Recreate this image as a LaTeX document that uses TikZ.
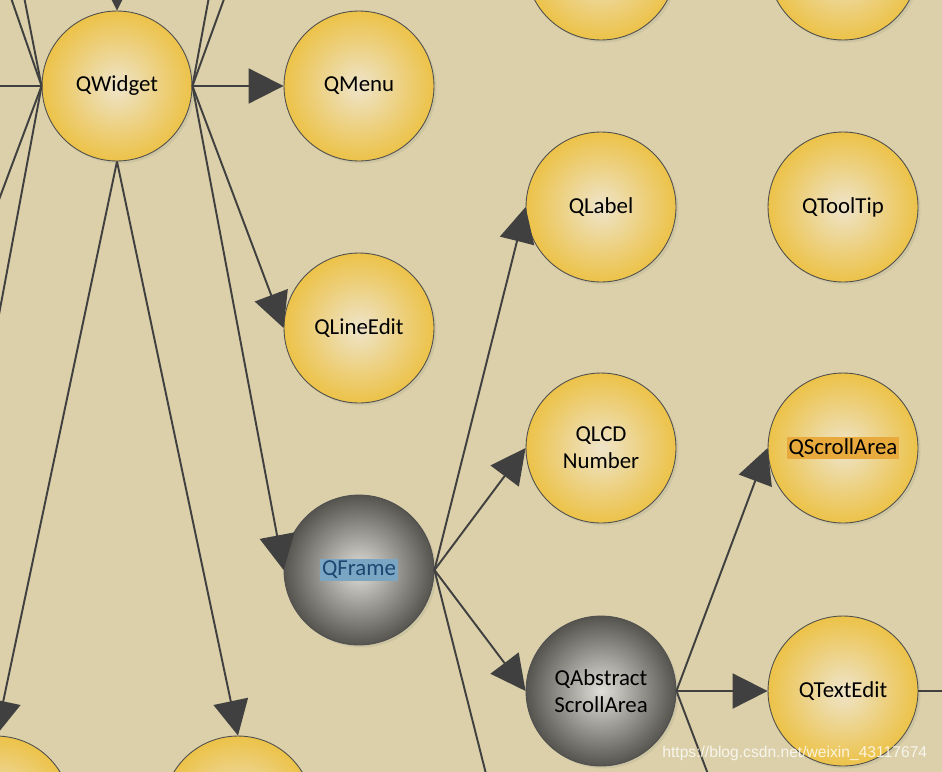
\documentclass[tikz,border=0pt]{standalone}
\usepackage{fontspec}
\setmainfont{Carlito}
\newfontfamily\wmfont{Liberation Sans}
\usetikzlibrary{arrows.meta,shadows}
\definecolor{bg}{RGB}{219,208,169}
\definecolor{goldout}{RGB}{236,194,72}
\definecolor{goldin}{RGB}{238,228,202}
\definecolor{greyout}{RGB}{86,84,78}
\definecolor{greyin}{RGB}{224,222,216}
\definecolor{rim}{RGB}{80,80,80}
\definecolor{ink}{RGB}{64,64,64}
\definecolor{hlblue}{RGB}{122,166,196}
\definecolor{txtblue}{RGB}{30,70,112}
\definecolor{hlorange}{RGB}{232,170,60}
\setlength{\fboxsep}{1pt}

\tikzset{
  ball/.style={circle,minimum size=3cm,inner sep=0pt,align=center,draw=rim,line width=0.5pt,
    shading=radial,inner color=goldin,outer color=goldout,
    drop shadow={shadow xshift=0.05cm,shadow yshift=-0.05cm,opacity=0.15},
    font=\fontsize{13}{15.5}\selectfont},
  greyball/.style={ball,inner color=greyin,outer color=greyout},
  link/.style={draw=ink,line width=1.1pt},
  isa/.style={link,-{Triangle[length=0.7cm,width=0.7cm]}}
}

\begin{document}
\begin{tikzpicture}[x=0.02cm,y=-0.02cm]
\useasboundingbox(0,0)rectangle(942,771);
\clip(0,0)rectangle(942,771);
\fill[bg](-10,-10)rectangle(952,781);
% nodes
\node[ball](topa)at(601,-35){};\node[ball](topb)at(843,-35){};
\node[ball](widget)at(117,86){QWidget};
\node[ball](menu)at(359,86){QMenu};
\node[ball](label)at(601,207){QLabel};
\node[ball](tooltip)at(843,207){QToolTip};
\node[ball](lineedit)at(359,328){QLineEdit};
\node[ball](lcd)at(601,448){QLCD\\Number};
\node[ball](scroll)at(843,448){\colorbox{hlorange}{QScrollArea}};
\node[greyball](frame)at(359,570){\colorbox{hlblue}{\textcolor{txtblue}{QFrame}}};
\node[greyball](abstract)at(601,691){QAbstract\\ScrollArea};
\node[ball](textedit)at(843,691){QTextEdit};
\node[ball](belowa)at(-4,811){};\node[ball](belowb)at(238,811){};
% free ends outside the frame
\coordinate(parent)at(117,-120);
\coordinate(wa)at(-60,86);\coordinate(wb)at(-23,-100);\coordinate(wc)at(5,-100);
\coordinate(wd)at(-60,357);\coordinate(we)at(-60,631);
\coordinate(ea)at(227,-100);\coordinate(eb)at(260,-100);
\coordinate(frameout)at(526,932);\coordinate(absout)at(768,932);\coordinate(teout)at(1000,691);
% connectors
\draw[isa](parent)--(widget.north);
\foreach\c in{wa,wb,wc,wd,we}{\draw[link](widget.west)--(\c);}
\foreach\c in{ea,eb}{\draw[link](widget.east)--(\c);}
\foreach\t in{menu,lineedit,frame}{\draw[isa](widget.east)--(\t.west);}
\foreach\t in{belowa,belowb}{\draw[isa](widget.south)--(\t.north);}
\foreach\t in{label,lcd,abstract}{\draw[isa](frame.east)--(\t.west);}
\draw[link](frame.east)--(frameout);
\foreach\t in{scroll,textedit}{\draw[isa](abstract.east)--(\t.west);}
\draw[link](abstract.east)--(absout);
\draw[link](textedit.east)--(teout);
% watermark
\node[font=\wmfont\fontsize{8.9}{11}\selectfont,text=white,opacity=0.8,anchor=base west,inner sep=0pt](mark)at(662,757){https://blog.csdn.net/weixin\_43117674};
\end{tikzpicture}
\end{document}
